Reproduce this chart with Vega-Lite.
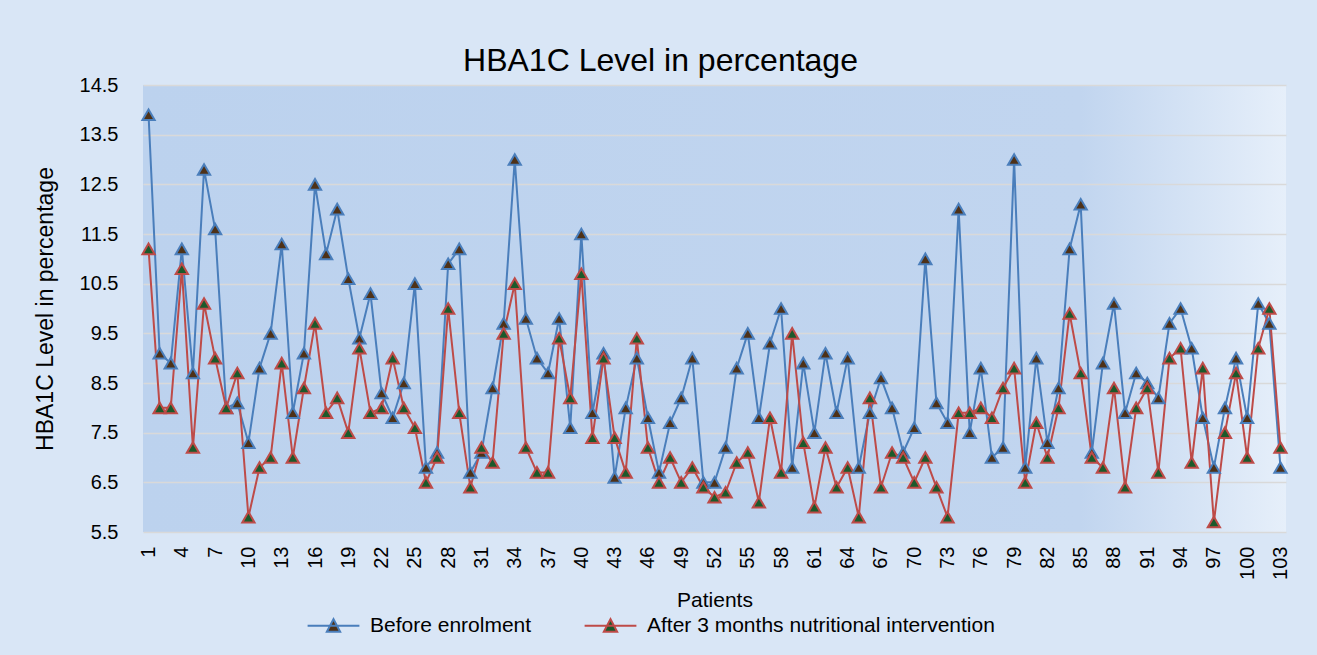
{
  "$schema": "https://vega.github.io/schema/vega-lite/v6.json",
  "autosize": {"type": "none"},
  "padding": {"left": 143, "top": 85, "right": 31, "bottom": 123},
  "width": 1143,
  "height": 447,
  "background": "#d9e6f6",
  "config": {
    "font": "Liberation Sans",
    "view": {
      "stroke": null,
      "fill": {"gradient": "linear", "x1": 0, "y1": 0, "x2": 1, "y2": 0,
        "stops": [{"offset": 0, "color": "#bcd2ee"}, {"offset": 0.82, "color": "#c1d5ef"}, {"offset": 1, "color": "#e6effa"}]}
    }
  },
  "title": {
    "text": "HBA1C Level in percentage",
    "fontSize": 32,
    "fontWeight": "normal",
    "font": "Liberation Sans",
    "color": "#000000",
    "anchor": "middle",
    "dx": -54,
    "dy": 17,
    "offset": 14
  },
  "data": {
    "values": [
      {"patient": 1, "before": 13.9, "after": 11.2},
      {"patient": 2, "before": 9.1, "after": 8.0},
      {"patient": 3, "before": 8.9, "after": 8.0},
      {"patient": 4, "before": 11.2, "after": 10.8},
      {"patient": 5, "before": 8.7, "after": 7.2},
      {"patient": 6, "before": 12.8, "after": 10.1},
      {"patient": 7, "before": 11.6, "after": 9.0},
      {"patient": 8, "before": 8.0, "after": 8.0},
      {"patient": 9, "before": 8.1, "after": 8.7},
      {"patient": 10, "before": 7.3, "after": 5.8},
      {"patient": 11, "before": 8.8, "after": 6.8},
      {"patient": 12, "before": 9.5, "after": 7.0},
      {"patient": 13, "before": 11.3, "after": 8.9},
      {"patient": 14, "before": 7.9, "after": 7.0},
      {"patient": 15, "before": 9.1, "after": 8.4},
      {"patient": 16, "before": 12.5, "after": 9.7},
      {"patient": 17, "before": 11.1, "after": 7.9},
      {"patient": 18, "before": 12.0, "after": 8.2},
      {"patient": 19, "before": 10.6, "after": 7.5},
      {"patient": 20, "before": 9.4, "after": 9.2},
      {"patient": 21, "before": 10.3, "after": 7.9},
      {"patient": 22, "before": 8.3, "after": 8.0},
      {"patient": 23, "before": 7.8, "after": 9.0},
      {"patient": 24, "before": 8.5, "after": 8.0},
      {"patient": 25, "before": 10.5, "after": 7.6},
      {"patient": 26, "before": 6.8, "after": 6.5},
      {"patient": 27, "before": 7.1, "after": 7.0},
      {"patient": 28, "before": 10.9, "after": 10.0},
      {"patient": 29, "before": 11.2, "after": 7.9},
      {"patient": 30, "before": 6.7, "after": 6.4},
      {"patient": 31, "before": 7.1, "after": 7.2},
      {"patient": 32, "before": 8.4, "after": 6.9},
      {"patient": 33, "before": 9.7, "after": 9.5},
      {"patient": 34, "before": 13.0, "after": 10.5},
      {"patient": 35, "before": 9.8, "after": 7.2},
      {"patient": 36, "before": 9.0, "after": 6.7},
      {"patient": 37, "before": 8.7, "after": 6.7},
      {"patient": 38, "before": 9.8, "after": 9.4},
      {"patient": 39, "before": 7.6, "after": 8.2},
      {"patient": 40, "before": 11.5, "after": 10.7},
      {"patient": 41, "before": 7.9, "after": 7.4},
      {"patient": 42, "before": 9.1, "after": 9.0},
      {"patient": 43, "before": 6.6, "after": 7.4},
      {"patient": 44, "before": 8.0, "after": 6.7},
      {"patient": 45, "before": 9.0, "after": 9.4},
      {"patient": 46, "before": 7.8, "after": 7.2},
      {"patient": 47, "before": 6.7, "after": 6.5},
      {"patient": 48, "before": 7.7, "after": 7.0},
      {"patient": 49, "before": 8.2, "after": 6.5},
      {"patient": 50, "before": 9.0, "after": 6.8},
      {"patient": 51, "before": 6.5, "after": 6.4},
      {"patient": 52, "before": 6.5, "after": 6.2},
      {"patient": 53, "before": 7.2, "after": 6.3},
      {"patient": 54, "before": 8.8, "after": 6.9},
      {"patient": 55, "before": 9.5, "after": 7.1},
      {"patient": 56, "before": 7.8, "after": 6.1},
      {"patient": 57, "before": 9.3, "after": 7.8},
      {"patient": 58, "before": 10.0, "after": 6.7},
      {"patient": 59, "before": 6.8, "after": 9.5},
      {"patient": 60, "before": 8.9, "after": 7.3},
      {"patient": 61, "before": 7.5, "after": 6.0},
      {"patient": 62, "before": 9.1, "after": 7.2},
      {"patient": 63, "before": 7.9, "after": 6.4},
      {"patient": 64, "before": 9.0, "after": 6.8},
      {"patient": 65, "before": 6.8, "after": 5.8},
      {"patient": 66, "before": 7.9, "after": 8.2},
      {"patient": 67, "before": 8.6, "after": 6.4},
      {"patient": 68, "before": 8.0, "after": 7.1},
      {"patient": 69, "before": 7.1, "after": 7.0},
      {"patient": 70, "before": 7.6, "after": 6.5},
      {"patient": 71, "before": 11.0, "after": 7.0},
      {"patient": 72, "before": 8.1, "after": 6.4},
      {"patient": 73, "before": 7.7, "after": 5.8},
      {"patient": 74, "before": 12.0, "after": 7.9},
      {"patient": 75, "before": 7.5, "after": 7.9},
      {"patient": 76, "before": 8.8, "after": 8.0},
      {"patient": 77, "before": 7.0, "after": 7.8},
      {"patient": 78, "before": 7.2, "after": 8.4},
      {"patient": 79, "before": 13.0, "after": 8.8},
      {"patient": 80, "before": 6.8, "after": 6.5},
      {"patient": 81, "before": 9.0, "after": 7.7},
      {"patient": 82, "before": 7.3, "after": 7.0},
      {"patient": 83, "before": 8.4, "after": 8.0},
      {"patient": 84, "before": 11.2, "after": 9.9},
      {"patient": 85, "before": 12.1, "after": 8.7},
      {"patient": 86, "before": 7.1, "after": 7.0},
      {"patient": 87, "before": 8.9, "after": 6.8},
      {"patient": 88, "before": 10.1, "after": 8.4},
      {"patient": 89, "before": 7.9, "after": 6.4},
      {"patient": 90, "before": 8.7, "after": 8.0},
      {"patient": 91, "before": 8.5, "after": 8.4},
      {"patient": 92, "before": 8.2, "after": 6.7},
      {"patient": 93, "before": 9.7, "after": 9.0},
      {"patient": 94, "before": 10.0, "after": 9.2},
      {"patient": 95, "before": 9.2, "after": 6.9},
      {"patient": 96, "before": 7.8, "after": 8.8},
      {"patient": 97, "before": 6.8, "after": 5.7},
      {"patient": 98, "before": 8.0, "after": 7.5},
      {"patient": 99, "before": 9.0, "after": 8.7},
      {"patient": 100, "before": 7.8, "after": 7.0},
      {"patient": 101, "before": 10.1, "after": 9.2},
      {"patient": 102, "before": 9.7, "after": 10.0},
      {"patient": 103, "before": 6.8, "after": 7.2}
    ]
  },
  "transform": [{"fold": ["before", "after"], "as": ["series", "value"]}],
  "encoding": {
    "x": {
      "field": "patient",
      "type": "ordinal",
      "scale": {"type": "point", "padding": 0.5},
      "axis": {
        "title": "Patients",
        "values": [1,4,7,10,13,16,19,22,25,28,31,34,37,40,43,46,49,52,55,58,61,64,67,70,73,76,79,82,85,88,91,94,97,100,103],
        "labelAngle": 270,
        "labelFontSize": 20,
        "labelColor": "#000000",
        "labelPadding": 14,
        "tickSize": 0,
        "ticks": false,
        "domain": false,
        "grid": false,
        "titleFontSize": 21,
        "titleFontWeight": "normal",
        "titleColor": "#000000",
        "titlePadding": 10
      }
    },
    "y": {
      "field": "value",
      "type": "quantitative",
      "scale": {"domain": [5.5, 14.5], "nice": false, "zero": false},
      "axis": {
        "title": "HBA1C Level in percentage",
        "values": [5.5, 6.5, 7.5, 8.5, 9.5, 10.5, 11.5, 12.5, 13.5, 14.5],
        "format": ".1f",
        "labelFontSize": 20,
        "labelColor": "#000000",
        "labelPadding": 25,
        "tickSize": 0,
        "ticks": false,
        "domain": false,
        "grid": true,
        "gridColor": "#d9d9d9",
        "gridWidth": 1.5,
        "titleFontSize": 23,
        "titleFontWeight": "normal",
        "titleColor": "#000000",
        "titlePadding": 22
      }
    },
    "stroke": {
      "field": "series",
      "type": "nominal",
      "scale": {"domain": ["before", "after"], "range": ["#4a7ebb", "#be4b48"]},
      "legend": {
        "title": null,
        "orient": "none",
        "legendX": 180,
        "legendY": 530,
        "direction": "horizontal",
        "padding": 0,
        "symbolType": "M-3.7,0H3.7M-0.95,0.85L0,-0.95L0.95,0.85Z",
        "symbolSize": 196,
        "symbolStrokeWidth": 2,
        "labelOffset": 26,
        "columnPadding": 48,
        "labelLimit": 0,
        "labelFontSize": 21,
        "labelColor": "#000000",
        "labelExpr": "datum.value == 'before' ? 'Before enrolment' : 'After 3 months nutritional intervention'"
      }
    }
  },
  "layer": [
    {
      "mark": {"type": "line", "strokeWidth": 2}
    },
    {
      "mark": {"type": "point", "shape": "triangle-up", "size": 150, "strokeWidth": 2, "filled": true, "opacity": 1},
      "encoding": {
        "fill": {
          "field": "series",
          "type": "nominal",
          "scale": {"domain": ["before", "after"], "range": ["#4e3117", "#1b5a2b"]},
          "legend": {
            "title": null,
            "orient": "none",
            "legendX": 180,
            "legendY": 530,
            "direction": "horizontal",
            "padding": 0,
            "symbolType": "M-3.7,0H3.7M-0.95,0.85L0,-0.95L0.95,0.85Z",
            "symbolSize": 196,
            "symbolStrokeWidth": 2,
            "labelOffset": 26,
            "columnPadding": 48,
            "labelLimit": 0,
            "labelFontSize": 21,
            "labelColor": "#000000",
            "labelExpr": "datum.value == 'before' ? 'Before enrolment' : 'After 3 months nutritional intervention'"
          }
        }
      }
    }
  ]
}
